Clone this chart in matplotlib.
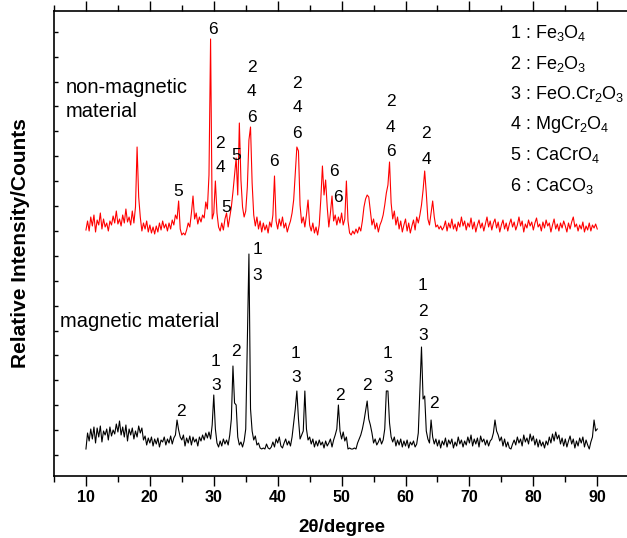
import numpy as np
import matplotlib
matplotlib.use("Agg")
import matplotlib.pyplot as plt
from matplotlib.ticker import MultipleLocator

plt.rcParams['font.family'] = ['Liberation Sans', 'DejaVu Sans']
plt.rcParams['mathtext.fontset'] = 'custom'
plt.rcParams['mathtext.rm'] = 'Liberation Sans'
plt.rcParams['mathtext.default'] = 'regular'

# scan: 10 - 90 degree, 0.25 degree step
two_theta = np.arange(10, 90.001, 0.25)

# magnetic material (black), intensity above its own baseline
magnetic = [
    0, 16, 8, 20, 10, 22, 6, 21, 12, 23, 7, 18, 14, 20, 9, 22,
    13, 19, 15, 25, 17, 28, 14, 22, 12, 24, 8, 20, 14, 21, 10, 18,
    12, 23, 16, 21, 9, 13, 4, 11, 6, 12, 3, 10, 5, 11, 2, 9,
    7, 12, 4, 10, 6, 13, 5, 11, 14, 29, 19, 12, 9, 14, 3, 11,
    6, 13, 4, 12, 7, 10, 3, 12, 8, 14, 9, 16, 11, 17, 10, 24,
    54, 20, 6, 2, 8, 3, 10, 5, 9, 4, 14, 30, 83, 46, 44, 12,
    4, 7, 2, 8, 20, 110, 195, 40, 18, 9, 13, 4, 6, 1, 0, 1,
    0, 5, 1, 0, 2, 7, 2, 10, 6, 12, 3, 1, 6, 10, 4, 8,
    3, 12, 26, 40, 58, 30, 10, 14, 18, 58, 20, 9, 12, 5, 10, 2,
    8, 3, 9, 4, 7, 1, 8, 3, 6, 10, 2, 9, 14, 20, 44, 18,
    10, 17, 8, 12, 0, 1, 0, 0, 1, 0, 6, 10, 14, 20, 28, 38,
    48, 30, 24, 16, 6, 10, 4, 7, 11, 5, 9, 20, 58, 58, 26, 12,
    7, 12, 3, 9, 4, 10, 2, 8, 3, 9, 1, 7, 4, 8, 2, 5,
    16, 60, 102, 50, 53, 18, 10, 6, 29, 12, 5, 10, 3, 9, 1, 8,
    4, 11, 2, 9, 5, 10, 1, 7, 3, 12, 5, 9, 2, 8, 4, 12,
    6, 14, 3, 10, 5, 11, 2, 13, 7, 10, 4, 9, 3, 8, 10, 16,
    29, 18, 14, 8, 12, 3, 10, 2, 7, 1, 0, 5, 9, 4, 12, 6,
    10, 3, 14, 7, 11, 5, 15, 8, 13, 4, 10, 2, 9, 3, 7, 1,
    8, 4, 12, 6, 15, 8, 17, 10, 14, 5, 11, 3, 10, 2, 8, 13,
    5, 10, 1, 8, 3, 11, 6, 12, 2, 9, 4, 0, 7, 12, 29, 18,
    20,
]

# non-magnetic material (red), intensity above its own baseline
non_magnetic = [
    5, 14, 4, 18, 9, 20, 3, 15, 10, 22, 6, 16, 8, 12, 4, 14,
    10, 19, 12, 24, 11, 16, 9, 20, 12, 26, 13, 18, 10, 24, 12, 28,
    88, 38, 18, 4, 12, 6, 14, 3, 10, 2, 8, 1, 9, 3, 12, 5,
    14, 7, 11, 4, 12, 6, 15, 10, 20, 16, 34, 6, 0, 2, 0, 5,
    12, 8, 22, 39, 16, 22, 11, 18, 13, 20, 17, 33, 26, 60, 196, 16,
    22, 54, 22, 8, 4, 12, 5, 16, 22, 8, 18, 28, 43, 60, 77, 40,
    112, 55, 28, 18, 24, 48, 95, 108, 52, 20, 9, 18, 6, 14, 3, 12,
    5, 10, 2, 13, 8, 20, 59, 14, 6, 16, 9, 18, 7, 12, 3, 9,
    14, 22, 35, 62, 88, 84, 30, 12, 18, 8, 20, 35, 10, 4, 12, 2,
    8, 0, 10, 36, 69, 40, 55, 28, 8, 22, 39, 14, 20, 10, 18, 12,
    22, 10, 16, 54, 14, 2, 0, 4, 1, 6, 2, 8, 4, 14, 28, 36,
    40, 38, 24, 10, 16, 6, 12, 3, 10, 14, 20, 30, 42, 50, 73, 32,
    16, 24, 10, 18, 6, 14, 3, 10, 16, 4, 12, 2, 9, 15, 5, 18,
    12, 20, 30, 45, 64, 42, 16, 10, 22, 34, 18, 8, 10, 6, 9, 5,
    8, 14, 4, 12, 7, 16, 6, 11, 4, 13, 8, 18, 9, 14, 5, 12,
    8, 17, 6, 13, 3, 10, 15, 7, 12, 4, 11, 18, 8, 14, 5, 12,
    16, 7, 13, 3, 10, 15, 6, 12, 4, 11, 16, 8, 13, 5, 10, 18,
    9, 14, 3, 11, 7, 15, 9, 13, 5, 12, 17, 8, 11, 4, 13, 7,
    15, 9, 12, 3, 10, 16, 6, 11, 4, 12, 7, 14, 9, 3, 12, 6,
    13, 18, 8, 11, 4, 10, 6, 13, 3, 9, 5, 12, 4, 10, 7, 11,
    6,
]

magnetic_offset = 27
non_magnetic_offset = 241

# peak labels: (2theta, top of label, digits stacked downwards)
non_magnetic_peaks = [
    (24.44, 284, "5"), (29.83, 446, "6"), (30.97, 333, "24"),
    (31.91, 268, "5"), (33.58, 321, "5"), (35.93, 409, "246"),
    (39.47, 314, "6"), (43.07, 393, "246"), (48.81, 304, "6"),
    (49.39, 278, "6"), (57.68, 374, "246"), (63.21, 342, "24"),
]
magnetic_peaks = [
    (24.82, 64, "2"), (30.30, 115, "13"), (33.43, 124, "2"),
    (36.81, 226, "13"), (42.82, 123, "13"), (49.75, 81, "2"),
    (54.02, 91, "2"), (57.21, 123, "13"), (62.69, 190, "123"),
    (64.46, 72, "2"),
]

phases = ["Fe$_3$O$_4$", "Fe$_2$O$_3$", "FeO.Cr$_2$O$_3$",
          "MgCr$_2$O$_4$", "CaCrO$_4$", "CaCO$_3$"]

fig = plt.figure(figsize=(6.27, 5.38), dpi=100)
ax = fig.add_axes([54 / 627, 62 / 538, 575.2 / 627, 465 / 538])

ax.plot(two_theta, np.array(non_magnetic) + non_magnetic_offset, color='red', lw=0.8)
ax.plot(two_theta, np.array(magnetic) + magnetic_offset, color='black', lw=0.8)

# peak assignments, one digit per line
step = 25
for x, top, digits in non_magnetic_peaks + magnetic_peaks:
    for i, d in enumerate(digits):
        ax.text(x, top - i * step, d, fontsize=12.5, ha='center', va='center')

# list of phases at top right
for i, name in enumerate(phases):
    ax.text(76.4, 443 - i * 30.6, f"{i + 1} : {name}", fontsize=13,
            ha='left', va='center')

ax.text(6.9, 383, "non-magnetic", fontsize=14.5, ha='left', va='baseline')
ax.text(6.9, 359, "material", fontsize=14.5, ha='left', va='baseline')
ax.text(5.95, 149, "magnetic material", fontsize=14.5, ha='left', va='baseline')

ax.set_xlim(5, 95)
ax.set_ylim(0, 465)
ax.xaxis.set_major_locator(MultipleLocator(10))
ax.xaxis.set_minor_locator(MultipleLocator(5))
ax.set_xticks(np.arange(10, 91, 10))
ax.set_yticks(np.arange(21, 465, 24.9))
ax.set_yticklabels([])

ax.tick_params(axis='x', which='major', direction='out', length=7, width=1,
               labelsize=11.5, pad=3)
ax.tick_params(axis='x', which='minor', direction='out', length=4, width=1)
ax.tick_params(axis='x', which='both', top=True, labeltop=False)
ax.tick_params(axis='y', which='major', direction='in', length=3, width=1)
for lab in ax.get_xticklabels():
    lab.set_fontweight('bold')
for s in ax.spines.values():
    s.set_linewidth(1.2)

ax.set_xlabel("2θ/degree", fontsize=13.5, fontweight='bold', labelpad=10)
ax.set_ylabel("Relative Intensity/Counts", fontsize=15, fontweight='bold', labelpad=14)

fig.savefig("out.png", dpi=100)
